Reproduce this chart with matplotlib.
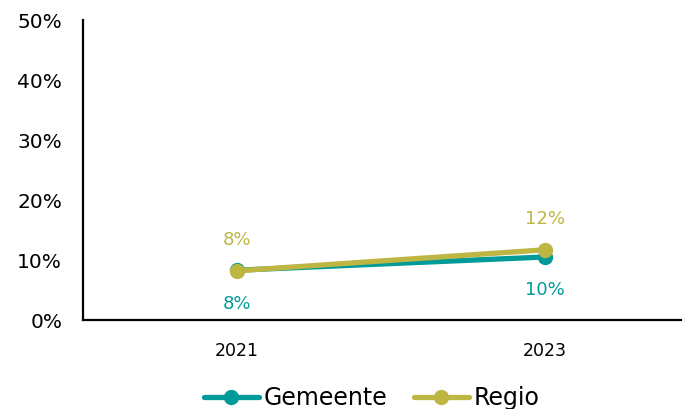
import matplotlib
matplotlib.use("Agg")
import matplotlib.pyplot as plt
from matplotlib.ticker import FuncFormatter

# data
years = ["2021", "2023"]
gemeente = [0.083, 0.105]
regio = [0.082, 0.117]
gemeente_labels = ["8%", "10%"]
regio_labels = ["8%", "12%"]
y_ticks = [0, 0.1, 0.2, 0.3, 0.4, 0.5]

teal = "#009B98"
olive = "#BDB643"

plt.rcParams['font.family'] = ['DejaVu Sans']

fig = plt.figure(figsize=(6.82, 4.09), dpi=100)
ax = fig.add_axes([0.1217, 0.2176, 0.903, 0.7335])

x = list(range(len(years)))
ax.plot(x, gemeente, color=teal, lw=3.8, marker='o', ms=10, label="Gemeente",
        solid_capstyle='round', zorder=3)
ax.plot(x, regio, color=olive, lw=3.8, marker='o', ms=10, label="Regio",
        solid_capstyle='round', zorder=4)

for i in x:
    ax.annotate(gemeente_labels[i], (i, gemeente[i]), xytext=(0, -24),
                textcoords='offset points', ha='center', va='center',
                color=teal, fontsize=13)
    ax.annotate(regio_labels[i], (i, regio[i]), xytext=(0, 22),
                textcoords='offset points', ha='center', va='center',
                color=olive, fontsize=13)

ax.set_xlim(-0.5, 1.5)
ax.set_ylim(0, 0.5)
ax.set_yticks(y_ticks)
ax.yaxis.set_major_formatter(FuncFormatter(lambda v, p: f"{v*100:.0f}%"))
ax.set_xticks(x)
ax.set_xticklabels(years)
ax.tick_params(axis='y', length=0, labelsize=14.5, pad=15)
ax.tick_params(axis='x', length=0, labelsize=12.5, pad=16)

for s in ['top', 'right']:
    ax.spines[s].set_visible(False)
for s in ['left', 'bottom']:
    ax.spines[s].set_linewidth(1.6)
    ax.spines[s].set_color('black')

leg = fig.legend(loc='lower center', bbox_to_anchor=(0.545, -0.055), ncol=2,
                 frameon=False, fontsize=17, handlelength=2.3, columnspacing=1.15,
                 handletextpad=0.2)

fig.savefig("out.png", dpi=100)
